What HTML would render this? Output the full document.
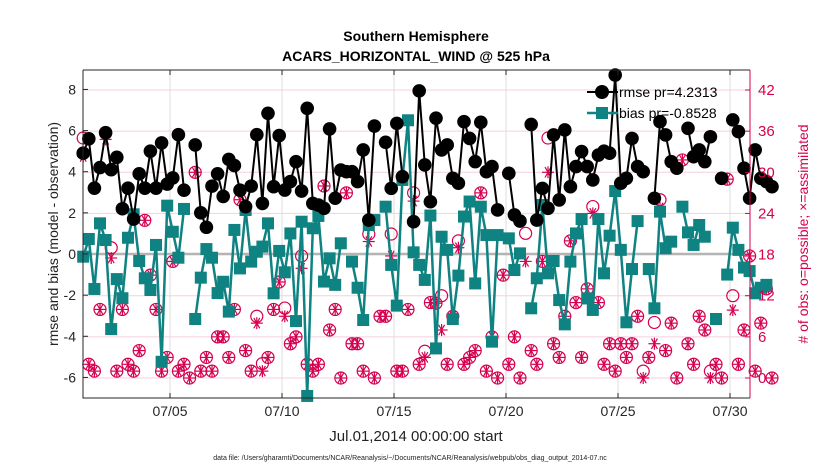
<!DOCTYPE html>
<html><head><meta charset="utf-8">
<style>
body{margin:0;background:#fff;}
svg{display:block;font-family:"Liberation Sans",sans-serif;}
</style></head>
<body>
<svg id="chart" width="830" height="470" viewBox="0 0 830 470">
<text x="416" y="41" text-anchor="middle" font-size="14" font-weight="bold">Southern Hemisphere</text>
<text x="416" y="61" text-anchor="middle" font-size="14" font-weight="bold">ACARS_HORIZONTAL_WIND @ 525 hPa</text>
<text x="416" y="441" text-anchor="middle" font-size="15" fill="#222">Jul.01,2014 00:00:00 start</text>
<text x="410" y="460" text-anchor="middle" font-size="7" fill="#222">data file: /Users/gharamti/Documents/NCAR/Reanalysis/~/Documents/NCAR/Reanalysis/webpub/obs_diag_output_2014-07.nc</text>
<text transform="translate(58,234) rotate(-90)" text-anchor="middle" font-size="14" fill="#222">rmse and bias (model - observation)</text>
<text transform="translate(808,234) rotate(-90)" text-anchor="middle" font-size="14" fill="#d6004f"># of obs: o=possible; ×=assimilated</text>
<g id="grid"></g>
<g id="marks"></g>
<g id="axes"></g>
<g id="legend">
  <g>
    <line x1="587" y1="92" x2="618" y2="92" stroke="#000" stroke-width="2"/>
    <circle cx="602" cy="92" r="7" fill="#000"/>
    <text x="619" y="97" font-size="14">rmse pr=4.2313</text>
  </g>
  <g>
    <line x1="587" y1="113" x2="618" y2="113" stroke="#0f8282" stroke-width="2.5"/>
    <rect x="596" y="107" width="12" height="12" fill="#0f8282"/>
    <text x="619" y="118" font-size="14">bias pr=-0.8528</text>
  </g>
</g>
</svg>
<script>
const rmse=[4.9,5.6,3.2,4.2,5.9,4.1,4.7,2.2,3.2,1.7,3.9,3.2,5.0,3.2,5.4,3.4,3.7,5.8,3.1,null,5.3,2.0,1.3,3.3,3.9,2.8,4.6,4.3,3.1,2.3,3.3,5.8,
2.46,6.84,3.27,5.76,3.11,3.52,4.49,3.06,7.08,2.46,2.38,2.22,6.08,2.71,4.08,4.0,4.0,3.52,5.06,1.65,6.22,null,5.43,3.19,6.35,3.76,null,1.57,7.93,4.33,2.54,6.6,
5.06,5.3,3.68,3.44,6.43,5.62,4.49,6.4,4.0,4.25,2.14,null,3.92,1.9,1.6,null,6.3,1.65,3.19,2.22,5.79,2.63,6.03,3.27,4.25,4.98,4.25,3.6,4.81,5.0,
4.9,8.7,3.44,3.68,5.62,4.25,4.0,null,2.71,6.43,5.79,4.49,4.17,null,6.11,4.73,5.06,4.49,5.7,null,3.68,null,6.52,5.95,4.17,2.71,5.06,3.68,3.52,3.27];
const bias=[-0.13,0.73,-1.70,1.49,0.68,-3.65,-1.22,-2.15,0.79,1.93,-0.34,-1.18,-1.75,0.44,-5.24,2.35,1.08,-0.18,2.19,null,-3.16,-1.15,0.24,-0.18,-1.9,-1.35,-2.8,1.17,-0.70,2.14,-0.37,0.11,
0.36,1.49,-1.91,0.15,-0.89,1.0,-3.26,1.57,-6.9,1.25,1.85,-1.34,-0.21,-1.5,0.52,null,-0.37,-1.64,-3.21,1.41,1.65,null,2.3,-0.53,-2.51,3.6,6.5,0.08,-0.53,-1.26,1.87,
-4.59,0.84,0.2,-3.16,-1.05,1.82,2.55,-1.43,2.3,0.92,-4.26,0.92,null,0.76,-0.78,0.03,null,-2.64,-1.18,2.38,-0.94,-0.34,-2.24,-3.42,-0.37,1.0,1.7,-2.16,-2.72,1.7,
-0.94,0.89,3.06,0.2,-3.32,-0.73,1.6,null,-0.73,-2.64,2.06,0.28,0.6,null,2.3,1.05,0.44,1.41,0.84,null,-3.16,null,-1.0,1.28,0.2,-0.66,-0.83,-1.91,-1.64,-1.5];
const possible=[35,2,1,10,35.7,19,1,10,2,1,4,23,15,10,1,3,17,1,2,0,30,1,3,1,6,6,3,10,26,4,1,9,
2.1,3,10,14,10.2,5,6,17.8,2,1,2,28,7,10,0,27,5,5,1,21,0,9,9,21,1,1,10,27,2,3.9,11,
10.9,12,2,9,20,2,3,4,27,1,6,0,15,2,6,0,21.1,4,2,17,35,5,3,9,20,11,3,13,25,11,
2,5,1,5,3,5,9,1,3,8.1,26,4,8,0,31.8,5,2,9,7,1,2,0,29,12,2,7,17.8,1,8,13,0];
const assimilated=[32.3,2,1,10,34.8,17.5,1,10,2,1,4,23,15,10,1,3,17,1,2,0,30,1,3,1,6,6,3,10,26,4,1,8,
1,3,10,14,9,5,6,16,2,1,2,28,7,10,0,27,5,5,1,19.9,0,9,9,17.8,1,1,10,25.8,2,3,11,
10.9,7,2,9,19,2,3,4,27,1,6,0,15,2,6,0,17,4,2,17,30,5,3,9,20,11,3,13,24,11,
2,5,1,5,3,5,9,0,3,5,24.8,4,8,0,31.8,5,2,9,7,0,2,0,29,9.9,2,7,17.8,1,8,13,0];
const leftTicks=[-6,-4,-2,0,2,4,6,8];
const rightTicks=[0,6,12,18,24,30,36,42];
const xTickDays=[5,10,15,20,25,30];
const xTickLabels=["07/05","07/10","07/15","07/20","07/25","07/30"];

const NS="http://www.w3.org/2000/svg";
const L=83,R=750,T=70,B=398;
const xS=d=>80.4+(d-1)*22.4;
const yL=v=>254-v*20.571;
const yR=c=>378-c*6.857;
const dayOf=i=>1.125+i*0.25;
function mk(tag,attrs,parent){const e=document.createElementNS(NS,tag);for(const k in attrs)e.setAttribute(k,attrs[k]);parent.appendChild(e);return e;}
const grid=document.getElementById('grid'),marks=document.getElementById('marks'),axes=document.getElementById('axes');
const PINK="#d6004f",TEAL="#0f8282";

rightTicks.forEach(t=>{const e=mk('line',{x1:L,x2:R,y1:yR(t),y2:yR(t),stroke:'#f4cfe0','stroke-width':1},grid);

});
xTickDays.forEach(d=>{const e=mk('line',{x1:xS(d),x2:xS(d),y1:T,y2:B,stroke:'#dcdcdc','stroke-width':1},grid);

});
const zl=mk('line',{x1:L,x2:R,y1:yL(0),y2:yL(0),stroke:'#b4b4b4','stroke-width':2.5},grid);



possible.forEach((c,i)=>{if(c==null)return;const e=mk('circle',{cx:xS(dayOf(i)),cy:yR(c),r:6,fill:'none',stroke:PINK,'stroke-width':1.2},marks);

});
assimilated.forEach((c,i)=>{if(c==null)return;const cx=xS(dayOf(i)),cy=yR(c);const g=mk('g',{stroke:PINK,'stroke-width':1.2},marks);


[[6,0],[3,5.2],[-3,5.2]].forEach(([dx,dy])=>mk('line',{x1:cx-dx,y1:cy-dy,x2:cx+dx,y2:cy+dy},g));
mk('line',{x1:cx,y1:cy-6,x2:cx,y2:cy+6},g);});

function drawLine(arr,color,w,name){let d='';let pen=false;arr.forEach((v,i)=>{if(v==null){pen=false;return;}d+=(pen?'L':'M')+xS(dayOf(i)).toFixed(1)+' '+yL(v).toFixed(1)+' ';pen=true;});
const p=mk('path',{d:d,fill:'none',stroke:color,'stroke-width':w,'stroke-linejoin':'round'},marks);

}
drawLine(bias,TEAL,2.5,'bias-line');
bias.forEach((v,i)=>{if(v==null)return;const e=mk('rect',{x:xS(dayOf(i))-6,y:yL(v)-6,width:12,height:12,fill:TEAL},marks);

});
drawLine(rmse,'#000',2,'rmse-line');
rmse.forEach((v,i)=>{if(v==null)return;const e=mk('circle',{cx:xS(dayOf(i)),cy:yL(v),r:6.8,fill:'#000'},marks);

});

const box=mk('path',{d:`M${L} ${T}H${R}M${L} ${T}V${B}H${R}`,fill:'none',stroke:'#262626','stroke-width':1},axes);


const ra=mk('line',{x1:R,x2:R,y1:T,y2:B,stroke:PINK,'stroke-width':1},axes);


leftTicks.forEach(t=>{const y=yL(t);mk('line',{x1:L,x2:L+5,y1:y,y2:y,stroke:'#262626'},axes);
const e=mk('text',{x:L-7,y:y+5,'text-anchor':'end','font-size':14,fill:'#262626'},axes);e.textContent=t;

});
rightTicks.forEach(t=>{const y=yR(t);mk('line',{x1:R-5,x2:R,y1:y,y2:y,stroke:PINK},axes);
const e=mk('text',{x:R+8,y:y+5,'font-size':15,fill:PINK},axes);e.textContent=t;

});
xTickDays.forEach((d,i)=>{const x=xS(d);mk('line',{x1:x,x2:x,y1:B,y2:B-5,stroke:'#262626'},axes);mk('line',{x1:x,x2:x,y1:T,y2:T+5,stroke:'#262626'},axes);
const e=mk('text',{x:x,y:416,'text-anchor':'middle','font-size':14,fill:'#262626'},axes);e.textContent=xTickLabels[i];

});
</script>
</body></html>
